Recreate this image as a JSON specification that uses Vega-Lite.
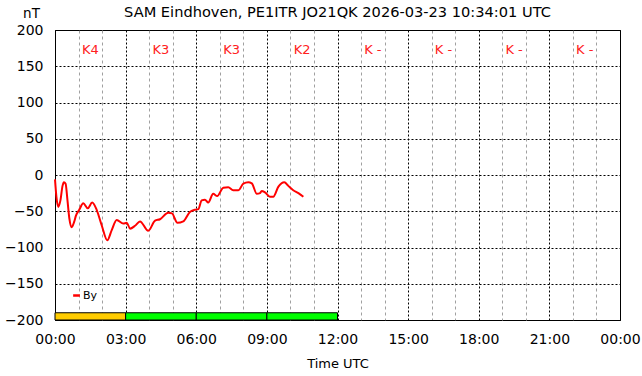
{
  "$schema": "https://vega.github.io/schema/vega-lite/v6.json",
  "width": 565,
  "height": 290,
  "autosize": {"type": "none"},
  "padding": {"left": 55, "top": 30, "right": 22, "bottom": 56},
  "background": "white",
  "config": {
    "font": "DejaVu Sans",
    "view": {"stroke": "black", "strokeWidth": 1},
    "axis": {"labelFont": "DejaVu Sans", "titleFont": "DejaVu Sans", "labelColor": "black", "titleColor": "black", "titleFontWeight": "normal"}
  },
  "title": {"text": "SAM Eindhoven, PE1ITR JO21QK 2026-03-23 10:34:01 UTC", "fontSize": 14.6, "fontWeight": "normal", "font": "DejaVu Sans", "color": "black", "anchor": "middle", "frame": "group", "offset": -14},
  "datasets": {
    "mag": [
      {"h": 0.0, "v": -6, "series": "By"},
      {"h": 0.06, "v": -30, "series": "By"},
      {"h": 0.14, "v": -44, "series": "By"},
      {"h": 0.23, "v": -35, "series": "By"},
      {"h": 0.32, "v": -15, "series": "By"},
      {"h": 0.38, "v": -10, "series": "By"},
      {"h": 0.45, "v": -12, "series": "By"},
      {"h": 0.53, "v": -35, "series": "By"},
      {"h": 0.61, "v": -60, "series": "By"},
      {"h": 0.71, "v": -72, "series": "By"},
      {"h": 0.81, "v": -65, "series": "By"},
      {"h": 0.89, "v": -56, "series": "By"},
      {"h": 1.03, "v": -48, "series": "By"},
      {"h": 1.2, "v": -39, "series": "By"},
      {"h": 1.39, "v": -46, "series": "By"},
      {"h": 1.58, "v": -38, "series": "By"},
      {"h": 1.77, "v": -48, "series": "By"},
      {"h": 1.98, "v": -69, "series": "By"},
      {"h": 2.22, "v": -90, "series": "By"},
      {"h": 2.41, "v": -76, "series": "By"},
      {"h": 2.62, "v": -62, "series": "By"},
      {"h": 2.9, "v": -67, "series": "By"},
      {"h": 3.05, "v": -66, "series": "By"},
      {"h": 3.19, "v": -74, "series": "By"},
      {"h": 3.4, "v": -70, "series": "By"},
      {"h": 3.61, "v": -64, "series": "By"},
      {"h": 3.96, "v": -77, "series": "By"},
      {"h": 4.25, "v": -63, "series": "By"},
      {"h": 4.46, "v": -61, "series": "By"},
      {"h": 4.81, "v": -52, "series": "By"},
      {"h": 4.97, "v": -53, "series": "By"},
      {"h": 5.2, "v": -66, "series": "By"},
      {"h": 5.45, "v": -64, "series": "By"},
      {"h": 5.73, "v": -51, "series": "By"},
      {"h": 5.95, "v": -48, "series": "By"},
      {"h": 6.09, "v": -47, "series": "By"},
      {"h": 6.23, "v": -35, "series": "By"},
      {"h": 6.37, "v": -34, "series": "By"},
      {"h": 6.51, "v": -38, "series": "By"},
      {"h": 6.72, "v": -26, "series": "By"},
      {"h": 6.89, "v": -29, "series": "By"},
      {"h": 7.15, "v": -17.5, "series": "By"},
      {"h": 7.36, "v": -17, "series": "By"},
      {"h": 7.57, "v": -21, "series": "By"},
      {"h": 7.79, "v": -21, "series": "By"},
      {"h": 8.0, "v": -12, "series": "By"},
      {"h": 8.21, "v": -10, "series": "By"},
      {"h": 8.36, "v": -11.5, "series": "By"},
      {"h": 8.57, "v": -26, "series": "By"},
      {"h": 8.71, "v": -25, "series": "By"},
      {"h": 8.78, "v": -22, "series": "By"},
      {"h": 8.92, "v": -24, "series": "By"},
      {"h": 9.13, "v": -30, "series": "By"},
      {"h": 9.27, "v": -30, "series": "By"},
      {"h": 9.49, "v": -16, "series": "By"},
      {"h": 9.74, "v": -10, "series": "By"},
      {"h": 9.91, "v": -15, "series": "By"},
      {"h": 10.12, "v": -21, "series": "By"},
      {"h": 10.34, "v": -25, "series": "By"},
      {"h": 10.55, "v": -30, "series": "By"}
    ],
    "kidx": [
      {"start": 0, "end": 3, "mid": 1.5, "label": "K4", "k": 4},
      {"start": 3, "end": 6, "mid": 4.5, "label": "K3", "k": 3},
      {"start": 6, "end": 9, "mid": 7.5, "label": "K3", "k": 3},
      {"start": 9, "end": 12, "mid": 10.5, "label": "K2", "k": 2},
      {"start": 12, "end": 15, "mid": 13.5, "label": "K -", "k": null},
      {"start": 15, "end": 18, "mid": 16.5, "label": "K -", "k": null},
      {"start": 18, "end": 21, "mid": 19.5, "label": "K -", "k": null},
      {"start": 21, "end": 24, "mid": 22.5, "label": "K -", "k": null}
    ]
  },
  "encoding": {
    "x": {"type": "quantitative", "scale": {"domain": [0, 24], "nice": false, "zero": false},
      "axis": {
        "title": "Time UTC",
        "values": [0,1,2,3,4,5,6,7,8,9,10,11,12,13,14,15,16,17,18,19,20,21,22,23,24],
        "labelExpr": "datum.value % 3 == 0 ? ((datum.value % 24) < 10 ? '0' : '') + (datum.value % 24) + ':00' : ''",
        "labelOverlap": false, "labelFlush": false, "labelBound": false,
        "labelFontSize": 14, "labelPadding": 12, "ticks": false, "domain": false,
        "titleFontSize": 13, "titlePadding": 11,
        "grid": true,
        "gridColor": {"condition": {"test": "datum.value % 3 == 0", "value": "#000000"}, "value": "#a0a0a0"},
        "gridDash": {"condition": {"test": "datum.value % 3 == 0", "value": [2, 2]}, "value": [3, 3]},
        "gridOpacity": 1, "gridWidth": 1
      }},
    "y": {"type": "quantitative", "scale": {"domain": [-200, 200], "nice": false},
      "axis": {
        "title": "nT",
        "values": [-200,-150,-100,-50,0,50,100,150,200],
        "labelOverlap": false,
        "labelFontSize": 14, "labelPadding": 12, "ticks": false, "domain": false,
        "titleFontSize": 13.5, "titleAngle": 0, "titleX": -24, "titleY": -10, "titleAlign": "center", "titleBaseline": "bottom",
        "grid": true, "gridColor": "#000000", "gridDash": [2, 2], "gridOpacity": 1
      }}
  },
  "layer": [
    {
      "data": {"name": "kidx"},
      "transform": [{"filter": "isValid(datum.k)"}],
      "mark": {"type": "rect", "stroke": "black", "strokeWidth": 1},
      "encoding": {
        "x": {"field": "start", "type": "quantitative"},
        "x2": {"field": "end"},
        "y": {"datum": -200, "type": "quantitative"},
        "y2": {"datum": -190},
        "color": {"field": "k", "type": "ordinal", "scale": {"domain": [2, 3, 4], "range": ["#00ff00", "#00ff00", "#ffcc00"]}, "legend": null}
      }
    },
    {
      "data": {"name": "mag"},
      "mark": {"type": "line", "strokeWidth": 2, "interpolate": "monotone"},
      "encoding": {
        "x": {"field": "h", "type": "quantitative"},
        "y": {"field": "v", "type": "quantitative"},
        "stroke": {"field": "series", "type": "nominal", "scale": {"range": ["#ff0000"]},
          "legend": {"orient": "none", "legendX": 16, "legendY": 260, "title": null, "symbolType": "stroke", "symbolSize": 45, "symbolStrokeWidth": 2.5, "labelFontSize": 11, "labelFont": "DejaVu Sans", "labelColor": "black", "labelOffset": 1, "padding": 0}}
      }
    },
    {
      "data": {"name": "kidx"},
      "mark": {"type": "text", "color": "#ff2020", "fontSize": 13, "font": "DejaVu Sans", "align": "center", "baseline": "middle"},
      "encoding": {
        "x": {"field": "mid", "type": "quantitative"},
        "y": {"datum": 173, "type": "quantitative"},
        "text": {"field": "label"}
      }
    }
  ]
}
